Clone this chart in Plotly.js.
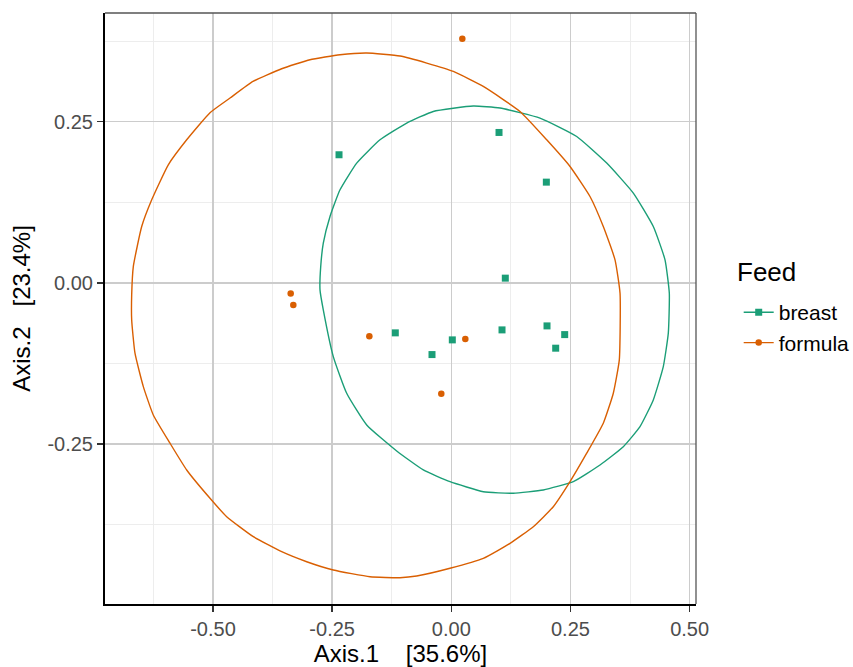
<!DOCTYPE html>
<html>
<head>
<meta charset="utf-8">
<script src="https://cdn.plot.ly/plotly-3.0.1.min.js"></script>
<style>html,body{margin:0;padding:0;background:#fff;}</style>
</head>
<body>
<div id="chart" style="width:853px;height:667px;"></div>
<script>
// ---- data ----
const groups = ["breast", "formula"];
const colors = ["#1B9E77", "#D95F02"];

const breastX = [-0.2356, 0.1001, 0.1994, 0.1133, 0.1064, 0.2008, 0.2379, 0.2190, -0.1175, -0.0405, 0.0021];
const breastY = [0.1988, 0.2334, 0.1563, 0.0073, -0.0730, -0.0668, -0.0803, -0.1014, -0.0776, -0.1113, -0.0885];

const formulaX = [0.0231, -0.3370, -0.3315, -0.1720, 0.0294, -0.0210];
const formulaY = [0.3789, -0.0166, -0.0342, -0.0828, -0.0870, -0.1720];

// confidence ellipses (vertices)
const breastEllX = [-0.2755, -0.2740, -0.2686, -0.2545, -0.2335, -0.1985, -0.1496, -0.0936, -0.0378, 0.0462, 0.1022, 0.1861, 0.2631, 0.3261, 0.3819, 0.4238, 0.4484, 0.4574, 0.4553, 0.4448, 0.4238, 0.3959, 0.3609, 0.3120, 0.2560, 0.1930, 0.1301, 0.0671, -0.0027, -0.0587, -0.1146, -0.1775, -0.2195, -0.2476, -0.2686, -0.2755];
const breastEllY = [-0.0109, 0.0253, 0.0616, 0.1030, 0.1444, 0.1859, 0.2220, 0.2480, 0.2660, 0.2744, 0.2713, 0.2557, 0.2272, 0.1859, 0.1393, 0.0874, 0.0357, -0.0160, -0.0781, -0.1300, -0.1817, -0.2231, -0.2542, -0.2826, -0.3085, -0.3214, -0.3266, -0.3241, -0.3085, -0.2904, -0.2609, -0.2205, -0.1713, -0.1144, -0.0419, -0.0109];

const formulaEllX = [-0.6706, -0.6672, -0.6496, -0.6286, -0.5938, -0.5552, -0.5063, -0.4643, -0.4161, -0.3559, -0.2965, -0.2335, -0.1775, -0.1076, -0.0516, 0.0042, 0.0671, 0.1441, 0.2002, 0.2491, 0.2910, 0.3189, 0.3435, 0.3540, 0.3525, 0.3399, 0.3189, 0.2841, 0.2491, 0.2140, 0.1721, 0.1232, 0.0671, -0.0027, -0.0726, -0.1076, -0.1706, -0.2476, -0.3034, -0.3559, -0.4154, -0.4713, -0.5063, -0.5552, -0.5902, -0.6253, -0.6462, -0.6637, -0.6706, -0.6706];
const formulaEllY = [-0.0186, 0.0253, 0.0874, 0.1289, 0.1832, 0.2220, 0.2640, 0.2868, 0.3126, 0.3323, 0.3463, 0.3540, 0.3567, 0.3520, 0.3411, 0.3281, 0.3048, 0.2660, 0.2220, 0.1806, 0.1340, 0.0874, 0.0357, -0.0160, -0.1196, -0.1713, -0.2179, -0.2644, -0.3085, -0.3474, -0.3784, -0.4042, -0.4275, -0.4430, -0.4550, -0.4576, -0.4561, -0.4457, -0.4328, -0.4172, -0.3939, -0.3629, -0.3343, -0.2904, -0.2489, -0.2050, -0.1610, -0.1092, -0.0575, -0.0186];

const tickVals = [-0.5, -0.25, 0, 0.25, 0.5];
const xTickText = ["-0.50", "-0.25", "0.00", "0.25", "0.50"];
const yTickVals = [-0.25, 0, 0.25];
const yTickText = ["-0.25", "0.00", "0.25"];

const xTitle = "Axis.1\u00A0\u00A0\u00A0\u00A0[35.6%]";
const yTitle = "Axis.2\u00A0\u00A0\u00A0[23.4%]";
const legendTitle = "Feed";

// ---- traces ----
const font = "Liberation Sans, Arial, sans-serif";
const ellLine = (c) => ({color: c, width: 1.4, shape: "spline", smoothing: 0.45});
const traces = [
  {x: breastEllX, y: breastEllY, mode: "lines", line: ellLine(colors[0]), showlegend: false, hoverinfo: "skip"},
  {x: formulaEllX, y: formulaEllY, mode: "lines", line: ellLine(colors[1]), showlegend: false, hoverinfo: "skip"},
  {x: breastX, y: breastY, mode: "markers", marker: {symbol: "square", size: 7, color: colors[0]}, showlegend: false},
  {x: formulaX, y: formulaY, mode: "markers", marker: {symbol: "circle", size: 6.5, color: colors[1]}, showlegend: false},
  {x: [null], y: [null], name: groups[0], mode: "lines+markers", line: {color: colors[0], width: 1.4}, marker: {symbol: "square", size: 7, color: colors[0]}},
  {x: [null], y: [null], name: groups[1], mode: "lines+markers", line: {color: colors[1], width: 1.4}, marker: {symbol: "circle", size: 6.5, color: colors[1]}}
];

const axisCommon = {
  showgrid: true, gridcolor: "#cccccc", gridwidth: 1.4,
  zeroline: false, showline: true, linecolor: "#000", linewidth: 2,
  ticks: "outside", ticklen: 6, tickwidth: 1.3, tickcolor: "#333",
  tickfont: {family: font, size: 20, color: "#4D4D4D"},
  minor: {showgrid: true, gridcolor: "#ebebeb", gridwidth: 0.9, ticks: ""}
};

const layout = {
  width: 853, height: 667,
  margin: {l: 105, r: 157, t: 13, b: 63, autoexpand: false},
  paper_bgcolor: "#fff", plot_bgcolor: "#fff",
  font: {family: font},
  xaxis: Object.assign({}, axisCommon, {
    range: [-0.7266, 0.5134], tickvals: tickVals, ticktext: xTickText,
    minor: Object.assign({}, axisCommon.minor, {tickvals: [-0.625, -0.375, -0.125, 0.125, 0.375]}),
    title: {text: xTitle, font: {family: font, size: 24, color: "#000"}, standoff: 4}
  }),
  yaxis: Object.assign({}, axisCommon, {
    range: [-0.4984, 0.4188], tickvals: yTickVals, ticktext: yTickText,
    minor: Object.assign({}, axisCommon.minor, {tickvals: [-0.375, -0.125, 0.125, 0.375]}),
    title: {text: yTitle, font: {family: font, size: 24, color: "#000"}, standoff: 10}
  }),
  shapes: [
    {type: "line", xref: "paper", yref: "paper", x0: 0, x1: 1, y0: 1, y1: 1, line: {color: "#555", width: 1.3}, layer: "above"},
    {type: "line", xref: "paper", yref: "paper", x0: 1, x1: 1, y0: 0, y1: 1, line: {color: "#555", width: 1.3}, layer: "above"}
  ],
  annotations: [
    {text: legendTitle, xref: "paper", yref: "paper", x: (735 - 105) / (853 - 105 - 157), y: 1 - (272 - 13) / (667 - 13 - 63),
     xanchor: "left", yanchor: "middle", showarrow: false, font: {family: font, size: 26, color: "#000"}}
  ],
  legend: {
    font: {family: font, size: 21, color: "#000"},
    xref: "container", yref: "container",
    x: 0.866, y: 0.562, xanchor: "left", yanchor: "top",
    bgcolor: "rgba(0,0,0,0)", tracegroupgap: 0
  },
  showlegend: true
};

Plotly.newPlot("chart", traces, layout, {staticPlot: true, displayModeBar: false});
</script>
</body>
</html>
